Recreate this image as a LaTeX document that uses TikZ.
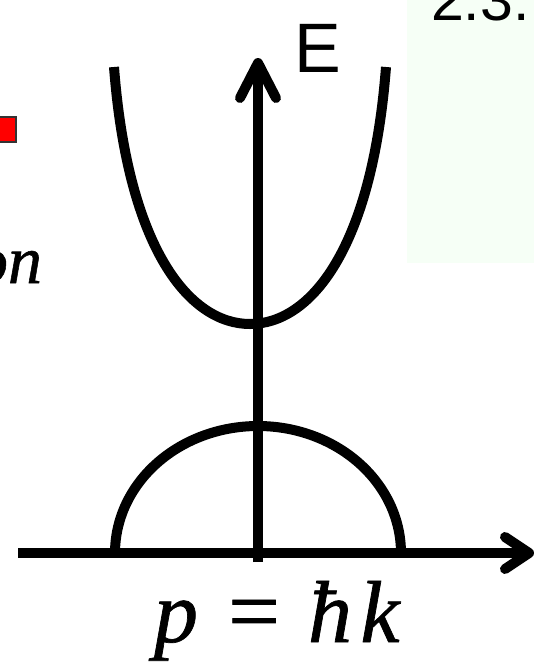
\documentclass[tikz,border=0pt]{standalone}
\usepackage{fontspec}
\setmainfont{Liberation Serif}
\newfontfamily\sansfam{Liberation Sans}
\newfontfamily\boldserif[FakeBold=0.8]{Liberation Serif}
\definecolor{greenbg}{RGB}{246,255,246}
\definecolor{sqred}{RGB}{255,0,0}
\tikzset{
  curve/.style={line width=10pt, draw=black},
  axisline/.style={line width=10pt, draw=black, line cap=butt},
  barb/.style={line width=10pt, draw=black, line cap=round, line join=round},
  lbl/.style={inner sep=0pt, outer sep=0pt},
}
\begin{document}
\begin{tikzpicture}[x=1pt,y=-1pt]
\useasboundingbox (0,0) rectangle (534,665);
\clip (0,0) rectangle (534,665);
% background panel and marker
\fill[greenbg] (407,-5) rectangle (545,263);
\draw[fill=sqred, draw=black!80, line width=1.2pt] (-9,117) rectangle (16,142);
% coordinates
\coordinate (xs) at (18,553);
\coordinate (xe) at (529,553);
\coordinate (xb1) at (505,537);
\coordinate (xb2) at (505,569);
\coordinate (ys) at (258,562);
\coordinate (ye) at (258,63);
\coordinate (yb1) at (240,98);
\coordinate (yb2) at (276,98);
\coordinate (ul) at (114,67);
\coordinate (uv) at (250,324);
\coordinate (ur) at (386,67);
% upper band
\draw[curve, line cap=butt] (ul) .. controls (128,250) and (190,324) .. (uv)
      .. controls (310,324) and (372,250) .. (ur);
% lower band (dome)
\draw[curve] plot[smooth, samples=91, domain=0:180] ({258+143*cos(\x)},{553-127*sin(\x)});
% axes
\draw[axisline] (xs) -- (xe);
\draw[axisline] (ys) -- (ye);
\draw[barb] (xb1) -- (xe) -- (xb2);
\draw[barb] (yb1) -- (ye) -- (yb2);
% labels
\node[lbl, anchor=base west] (elab) at (294,72) {\sansfam\fontsize{70}{80}\selectfont E};
\node[lbl, anchor=base west] (sec) at (431,20) {\sansfam\fontsize{59}{66}\selectfont 2.3.};
\node[lbl, anchor=base east] (on) at (42,283) {\boldserif\fontsize{68}{76}\selectfont\itshape on};
\node[lbl, anchor=base] (pp) at (176,642) {\boldserif\fontsize{88}{100}\selectfont\itshape p};
\node[lbl, anchor=base] (eq) at (254,642) {\boldserif\fontsize{92}{100}\selectfont =};
\node[lbl, anchor=base] (hb) at (330,642) {\boldserif\fontsize{88}{100}\selectfont\itshape ħ};
\node[lbl, anchor=base] (kk) at (380,642) {\boldserif\fontsize{88}{100}\selectfont\itshape k};
\end{tikzpicture}
\end{document}
